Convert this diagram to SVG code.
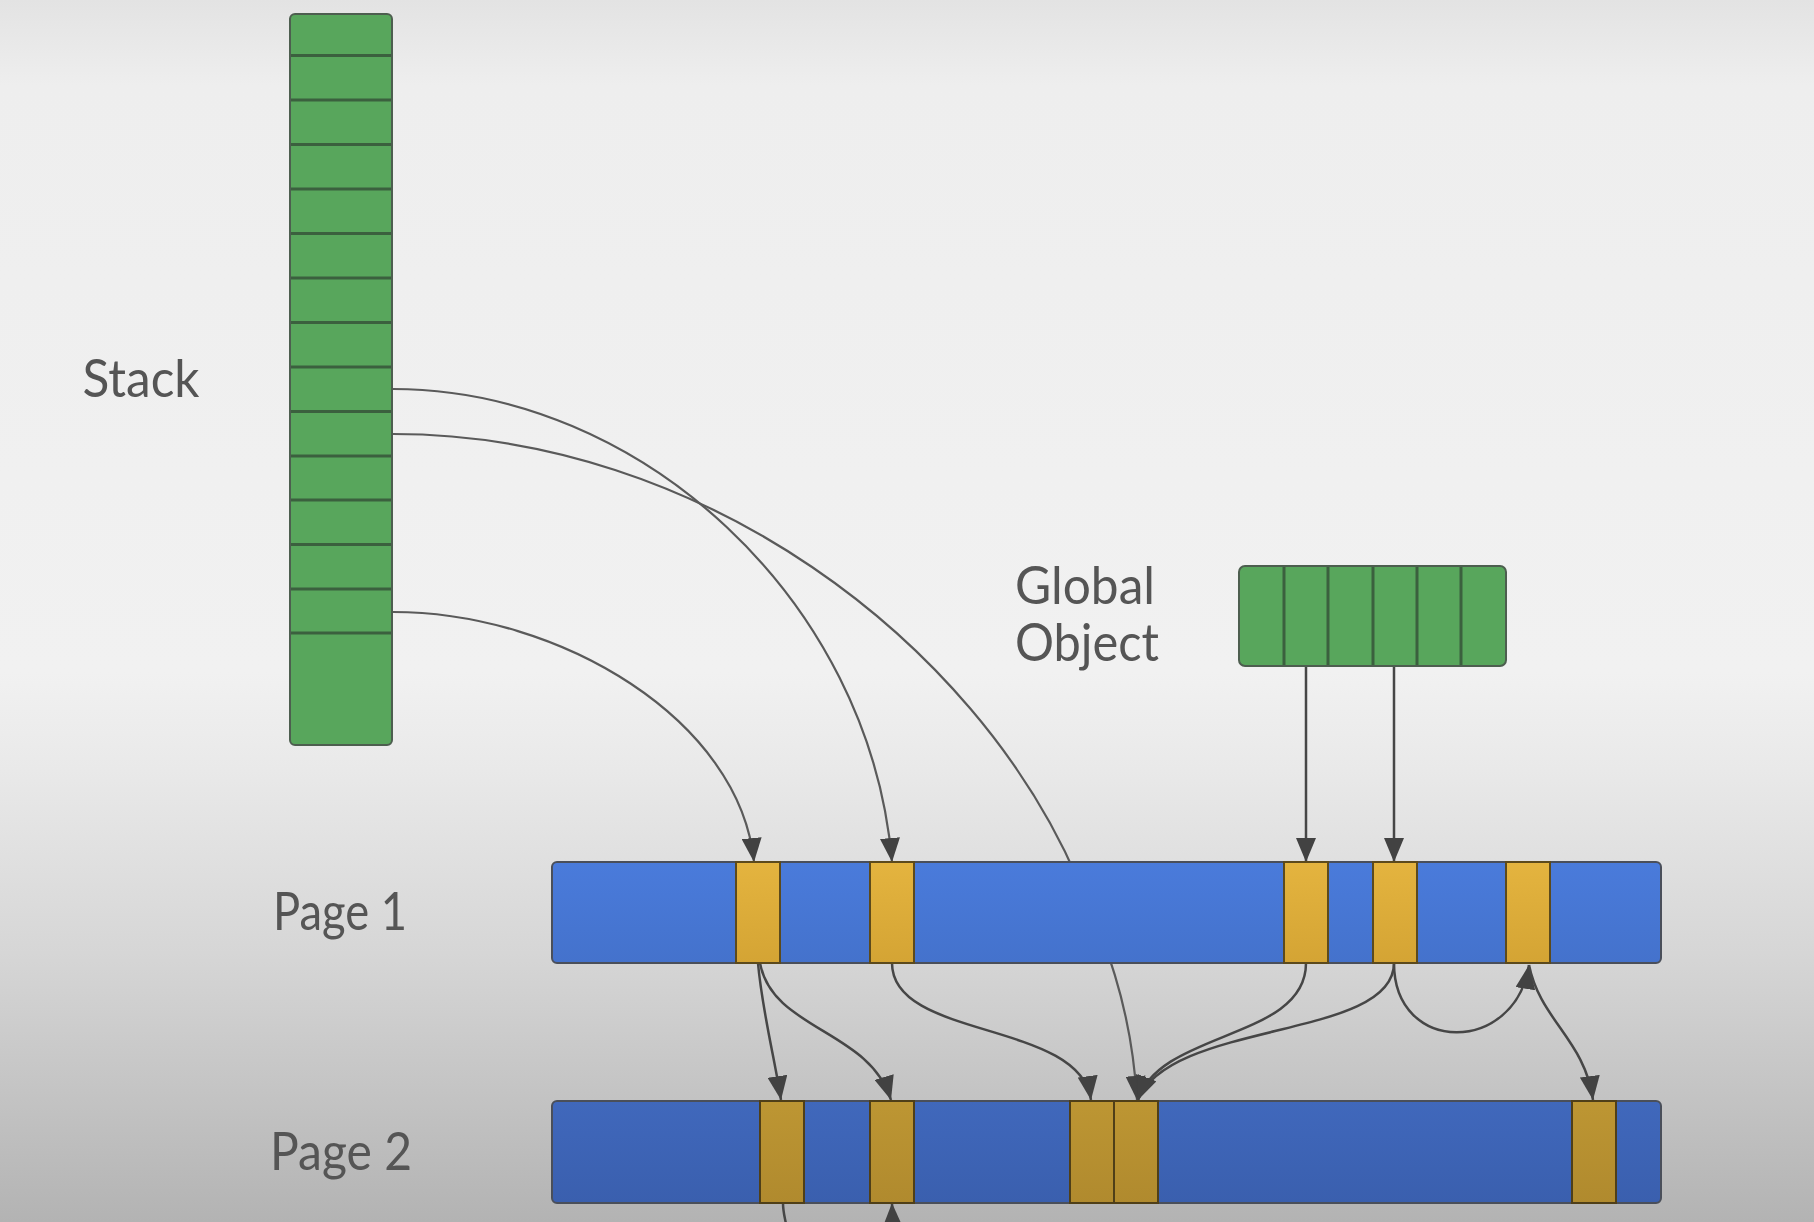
<svg xmlns="http://www.w3.org/2000/svg" width="1814" height="1222" viewBox="0 0 1814 1222">
<defs>
  <linearGradient id="bg" x1="0" y1="0" x2="0" y2="1">
    <stop offset="0" stop-color="#e3e3e3"/>
    <stop offset="0.07" stop-color="#eeeeee"/>
    <stop offset="0.55" stop-color="#f1f1f1"/>
    <stop offset="0.63" stop-color="#e9e9e9"/>
    <stop offset="0.78" stop-color="#d6d6d6"/>
    <stop offset="1" stop-color="#b3b3b3"/>
  </linearGradient>
  <linearGradient id="blue1" x1="0" y1="0" x2="0" y2="1">
    <stop offset="0" stop-color="#4a7bdb"/>
    <stop offset="1" stop-color="#4472cc"/>
  </linearGradient>
  <linearGradient id="blue2" x1="0" y1="0" x2="0" y2="1">
    <stop offset="0" stop-color="#4068bc"/>
    <stop offset="1" stop-color="#3a5fae"/>
  </linearGradient>
  <linearGradient id="yel1" x1="0" y1="0" x2="0" y2="1">
    <stop offset="0" stop-color="#e4b43f"/>
    <stop offset="1" stop-color="#d4a434"/>
  </linearGradient>
  <linearGradient id="yel2" x1="0" y1="0" x2="0" y2="1">
    <stop offset="0" stop-color="#bd9633"/>
    <stop offset="1" stop-color="#b08a2e"/>
  </linearGradient>
  <marker id="ah" markerWidth="24" markerHeight="20" refX="24" refY="10" orient="auto" markerUnits="userSpaceOnUse">
    <path d="M0,0 L24,10 L0,20 z" fill="#424242"/>
  </marker>
  <style>
    .lbl { font-family: Lato, "Liberation Sans", sans-serif; font-size: 52px; fill: #555555; text-anchor: middle; }
    .green { fill: #58a65c; stroke: #4d5e4f; stroke-width: 2; }
    .div { stroke: #3b603e; stroke-width: 3; }
    .page { stroke: #4a4f5a; stroke-width: 2; }
    .y1 { fill: url(#yel1); stroke: #5c4a1c; stroke-width: 2; }
    .y2 { fill: url(#yel2); stroke: #4f3f18; stroke-width: 2; }
    .c { fill: none; stroke: #464646; stroke-width: 2.5; marker-end: url(#ah); }
    .cs { fill: none; stroke: #5a5a5a; stroke-width: 2.2; marker-end: url(#ah); }
    .cn { fill: none; stroke: #464646; stroke-width: 2.5; }
  </style>
</defs>
<rect x="0" y="0" width="1814" height="1222" fill="url(#bg)"/>

<g id="connectors">
  <path class="cs" d="M393,612 C560,612 740,720 754,862"/>
  <path class="cs" d="M393,389 C640,389 870,600 892,862"/>
  <path class="cs" d="M393,434 C700,434 975,640 1078,880 C1102,935 1131,1000 1137,1100"/>
  <path class="c" d="M1306,666 L1306,862"/>
  <path class="c" d="M1394,666 L1394,862"/>
  <path class="c" d="M758,963 C762,1010 775,1060 781,1100"/>
  <path class="c" d="M760,963 C772,1030 870,1030 891,1100"/>
  <path class="c" d="M892,963 C892,1040 1080,1020 1091,1100"/>
  <path class="c" d="M1306,963 C1306,1040 1160,1030 1138,1100"/>
  <path class="c" d="M1394,963 C1394,1040 1170,1020 1138,1100"/>
  <path class="c" d="M1394,963 C1394,1055 1515,1055 1529,965"/>
  <path class="c" d="M1529,965 C1540,1020 1585,1040 1593,1100"/>
  <path class="cn" d="M783,1203 C783,1212 785,1218 786,1224"/>
  <path class="c" d="M893,1240 L892,1203"/>
</g>

<g id="stack-label"><text class="lbl" x="141" y="397" textLength="117" lengthAdjust="spacingAndGlyphs">Stack</text></g>
<g id="page1-label"><text class="lbl" x="340" y="930" textLength="134" lengthAdjust="spacingAndGlyphs">Page 1</text></g>
<g id="page2-label"><text class="lbl" x="341" y="1170" textLength="142" lengthAdjust="spacingAndGlyphs">Page 2</text></g>
<g id="global-label">
  <text class="lbl" x="1085" y="604" textLength="140" lengthAdjust="spacingAndGlyphs">Global</text>
  <text class="lbl" x="1087" y="661" textLength="144" lengthAdjust="spacingAndGlyphs">Object</text>
</g>

<g id="stack">
  <rect class="green" x="290" y="14" width="102" height="731" rx="5"/>
  <g class="div">
    <line x1="291" y1="55.5" x2="391" y2="55.5"/>
    <line x1="291" y1="100" x2="391" y2="100"/>
    <line x1="291" y1="144.5" x2="391" y2="144.5"/>
    <line x1="291" y1="189" x2="391" y2="189"/>
    <line x1="291" y1="233.5" x2="391" y2="233.5"/>
    <line x1="291" y1="278" x2="391" y2="278"/>
    <line x1="291" y1="322.5" x2="391" y2="322.5"/>
    <line x1="291" y1="367" x2="391" y2="367"/>
    <line x1="291" y1="411.5" x2="391" y2="411.5"/>
    <line x1="291" y1="456" x2="391" y2="456"/>
    <line x1="291" y1="500" x2="391" y2="500"/>
    <line x1="291" y1="544.5" x2="391" y2="544.5"/>
    <line x1="291" y1="589" x2="391" y2="589"/>
    <line x1="291" y1="633" x2="391" y2="633"/>
  </g>
</g>

<g id="global-object">
  <rect class="green" x="1239" y="566" width="267" height="100" rx="6"/>
  <g class="div">
    <line x1="1284" y1="567" x2="1284" y2="665"/>
    <line x1="1328" y1="567" x2="1328" y2="665"/>
    <line x1="1373" y1="567" x2="1373" y2="665"/>
    <line x1="1417" y1="567" x2="1417" y2="665"/>
    <line x1="1461" y1="567" x2="1461" y2="665"/>
  </g>
</g>

<g id="page1">
  <rect class="page" x="552" y="862" width="1109" height="101" rx="5" fill="url(#blue1)"/>
  <rect class="y1" x="736" y="862" width="44" height="101"/>
  <rect class="y1" x="870" y="862" width="44" height="101"/>
  <rect class="y1" x="1284" y="862" width="44" height="101"/>
  <rect class="y1" x="1373" y="862" width="44" height="101"/>
  <rect class="y1" x="1506" y="862" width="44" height="101"/>
</g>

<g id="page2">
  <rect class="page" x="552" y="1101" width="1109" height="102" rx="5" fill="url(#blue2)"/>
  <rect class="y2" x="760" y="1101" width="44" height="102"/>
  <rect class="y2" x="870" y="1101" width="44" height="102"/>
  <rect class="y2" x="1070" y="1101" width="44" height="102"/>
  <rect class="y2" x="1114" y="1101" width="44" height="102"/>
  <rect class="y2" x="1572" y="1101" width="44" height="102"/>
</g>
</svg>
